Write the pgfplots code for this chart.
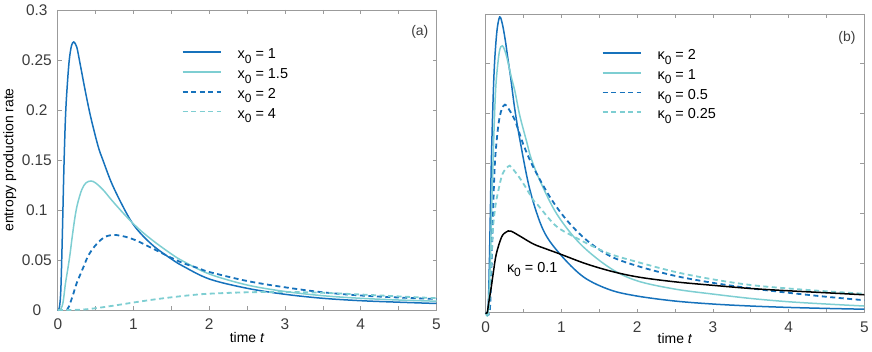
\documentclass[border=0pt]{standalone}
\usepackage{fontspec}
\setmainfont{Liberation Sans}
\usepackage{pgfplots}
\pgfplotsset{compat=1.18}
\definecolor{dblue}{RGB}{22,114,188}
\definecolor{lcyan}{RGB}{126,206,210}
\definecolor{axgray}{RGB}{155,155,155}
\definecolor{txgray}{RGB}{60,60,60}
\newcommand{\sub}[1]{\raisebox{-0.32em}{\fontsize{12}{12}\selectfont #1}}

\pgfplotsset{
  panel/.style={
    scale only axis, xmin=0, xmax=5, ymin=0, ymax=0.3, clip=false,
    axis line style={axgray, line width=0.7bp},
    tick style={axgray, line width=0.7bp},
    major tick length=4bp, minor tick length=4bp, tick align=inside,
    xtick={0,1,2,3,4,5}, xticklabels={0,1,2,3,4,5}, minor x tick num=1,
    ytick={0,0.05,0.1,0.15,0.2,0.25,0.3},
    scaled y ticks=false,
    tick label style={font=\fontsize{15.5}{17}\selectfont, text=txgray},
    xticklabel style={inner sep=0pt, anchor=north, yshift=-9bp},
    label style={font=\fontsize{14}{16}\selectfont},
    xlabel={time \textit{t}},
    legend cell align=left,
    legend image code/.code={\draw[##1] (0bp,0.3em) -- (38bp,0.3em);},
    legend style={draw=none, fill=none, inner sep=0pt, anchor=north west,
      font=\fontsize{14.5}{16}\selectfont,
      nodes={inner sep=0pt, text height=10bp, text depth=3bp},
      row sep=6.8bp, column sep=16bp},
  },
  sol/.style={line width=1.5bp, smooth, tension=0.55},
  dsh/.style={line width=1.8bp, smooth, tension=0.55, dash pattern=on 5bp off 3.5bp},
}

\begin{document}
\begin{tikzpicture}
\useasboundingbox (0bp,0bp) rectangle (872bp,352bp);

% (a)
\begin{axis}[panel, at={(57.8bp,42bp)}, anchor=south west,
    width=378.7bp, height=300bp,
    yticklabels={0,0.05,0.1,0.15,0.2,0.25,0.3},
    yticklabel style={anchor=center, xshift=-21bp},
    ylabel={entropy production rate},
    ylabel style={at={(axis description cs:-0.127,0.5)}, anchor=center},
    xlabel style={at={(axis description cs:0.5,-0.092)}, anchor=center},
    legend style={at={(0.327,0.872)}},
  ]
  \addplot[sol, dblue] coordinates {
    (0,0) (0.02,0.002) (0.04,0.02) (0.06,0.075) (0.08,0.14) (0.1,0.19)
    (0.12,0.219) (0.15,0.249) (0.18,0.264) (0.21,0.268) (0.25,0.263)
    (0.29,0.248) (0.35,0.224) (0.4,0.205) (0.45,0.188) (0.535,0.163)
    (0.6,0.149) (0.71,0.127) (0.85,0.105) (0.975,0.088) (1.1,0.076)
    (1.28,0.063) (1.5,0.051) (1.65,0.044) (2,0.031) (2.5,0.0217)
    (3,0.0157) (3.5,0.0117) (4,0.0093) (4.5,0.0078) (5,0.0065)};
  \addlegendentry{x\sub{0} = 1}
  \addplot[sol, lcyan] coordinates {
    (0,0) (0.04,0.001) (0.07,0.008) (0.1,0.026) (0.13,0.04) (0.16,0.055)
    (0.19,0.073) (0.227,0.093) (0.26,0.106) (0.315,0.12) (0.37,0.127)
    (0.438,0.129) (0.5,0.127) (0.6,0.12) (0.71,0.11) (0.85,0.098)
    (0.975,0.088) (1.1,0.079) (1.28,0.068) (1.5,0.056) (1.65,0.049)
    (2,0.036) (2.5,0.025) (3,0.0185) (3.5,0.0143) (4,0.0117) (4.5,0.01)
    (5,0.0088)};
  \addlegendentry{x\sub{0} = 1.5}
  \addplot[dsh, dblue] coordinates {
    (0.12,0) (0.15,0.004) (0.2,0.015) (0.25,0.027) (0.3,0.036) (0.35,0.045)
    (0.4,0.054) (0.49,0.064) (0.6,0.072) (0.71,0.075) (0.85,0.074)
    (1.02,0.07) (1.24,0.062) (1.45,0.054) (1.65,0.047) (1.85,0.042)
    (2,0.038) (2.5,0.029) (3,0.0227) (3.5,0.0177) (4,0.0145) (4.5,0.0125)
    (5,0.011)};
  \addlegendentry{x\sub{0} = 2}
  \addplot[dsh, lcyan] coordinates {
    (0,0) (0.3,0.0003) (0.5,0.0018) (0.75,0.0045) (1,0.0075) (1.25,0.0103)
    (1.5,0.0127) (1.75,0.0148) (2,0.0163) (2.5,0.0177) (3,0.0181)
    (3.5,0.0172) (4,0.0155) (4.5,0.0136) (5,0.0118)};
  \addlegendentry{x\sub{0} = 4}
  \node[font=\fontsize{14}{16}\selectfont, text=txgray] at (rel axis cs:0.956,0.928) {(a)};
\end{axis}

% (b)
\begin{axis}[panel, at={(485.7bp,39.3bp)}, anchor=south west,
    width=378.6bp, height=298.7bp,
    yticklabels={},
    xlabel style={at={(axis description cs:0.5,-0.088)}, anchor=center},
    legend style={at={(0.306,0.882)}},
  ]
  \addplot[sol, dblue] coordinates {
    (0,0) (0.02,0) (0.035,0.01) (0.05,0.055) (0.074,0.15) (0.1,0.22)
    (0.12,0.255) (0.15,0.284) (0.185,0.297) (0.22,0.29) (0.26,0.273)
    (0.295,0.254) (0.33,0.236) (0.383,0.205) (0.453,0.173) (0.585,0.123)
    (0.76,0.083) (0.98,0.059) (1.29,0.036) (1.64,0.023) (2,0.0167)
    (2.5,0.0117) (3,0.0087) (3.5,0.0067) (4,0.0053) (4.5,0.0043) (5,0.0035)};
  \addlegendentry{κ\sub{0} = 2}
  \addplot[sol, lcyan] coordinates {
    (0,0) (0.03,0) (0.06,0.05) (0.08,0.11) (0.1,0.16) (0.12,0.205)
    (0.14,0.234) (0.18,0.262) (0.22,0.268) (0.27,0.259) (0.34,0.236)
    (0.387,0.222) (0.45,0.198) (0.54,0.172) (0.6,0.155) (0.72,0.132)
    (0.94,0.099) (1.25,0.069) (1.64,0.045) (2,0.032) (2.5,0.0237)
    (3,0.0187) (3.5,0.0143) (4,0.011) (4.5,0.0087) (5,0.0067)};
  \addlegendentry{κ\sub{0} = 1}
  \addplot[dsh, dblue] coordinates {
    (0,0) (0.05,0) (0.07,0.03) (0.09,0.08) (0.11,0.13) (0.13,0.16)
    (0.17,0.19) (0.21,0.204) (0.255,0.209) (0.3,0.205) (0.387,0.193)
    (0.497,0.169) (0.63,0.146) (0.85,0.116) (1.07,0.093) (1.33,0.073)
    (1.64,0.057) (2,0.047) (2.5,0.037) (3,0.03) (3.5,0.0245) (4,0.02)
    (4.5,0.016) (5,0.0125)};
  \addlegendentry{κ\sub{0} = 0.5}
  \addplot[dsh, lcyan] coordinates {
    (0,0) (0.04,0) (0.06,0.03) (0.08,0.06) (0.097,0.086) (0.13,0.108)
    (0.16,0.12) (0.22,0.139) (0.3,0.147) (0.34,0.146) (0.47,0.133)
    (0.63,0.113) (0.69,0.108) (0.93,0.087) (1.2,0.075) (1.38,0.068)
    (1.64,0.059) (2,0.051) (2.5,0.041) (3,0.0335) (3.5,0.0278) (4,0.0243)
    (4.5,0.0215) (5,0.019)};
  \addlegendentry{κ\sub{0} = 0.25}
  \addplot[sol, black] coordinates {
    (0,0) (0.02,0) (0.04,0.01) (0.074,0.026) (0.1,0.04) (0.14,0.059)
    (0.21,0.076) (0.27,0.081) (0.33,0.082) (0.45,0.077) (0.63,0.069)
    (0.8,0.064) (0.98,0.059) (1.33,0.049) (1.69,0.041) (2.04,0.0355)
    (2.5,0.031) (3,0.0275) (3.5,0.0243) (4,0.022) (4.5,0.02) (5,0.018)};
  \node[anchor=base west, font=\fontsize{14.5}{16}\selectfont] at (axis cs:0.235,0.0405) {κ\sub{0} = 0.1};
  \node[font=\fontsize{14}{16}\selectfont, text=txgray] at (rel axis cs:0.954,0.921) {(b)};
\end{axis}
\end{tikzpicture}
\end{document}
